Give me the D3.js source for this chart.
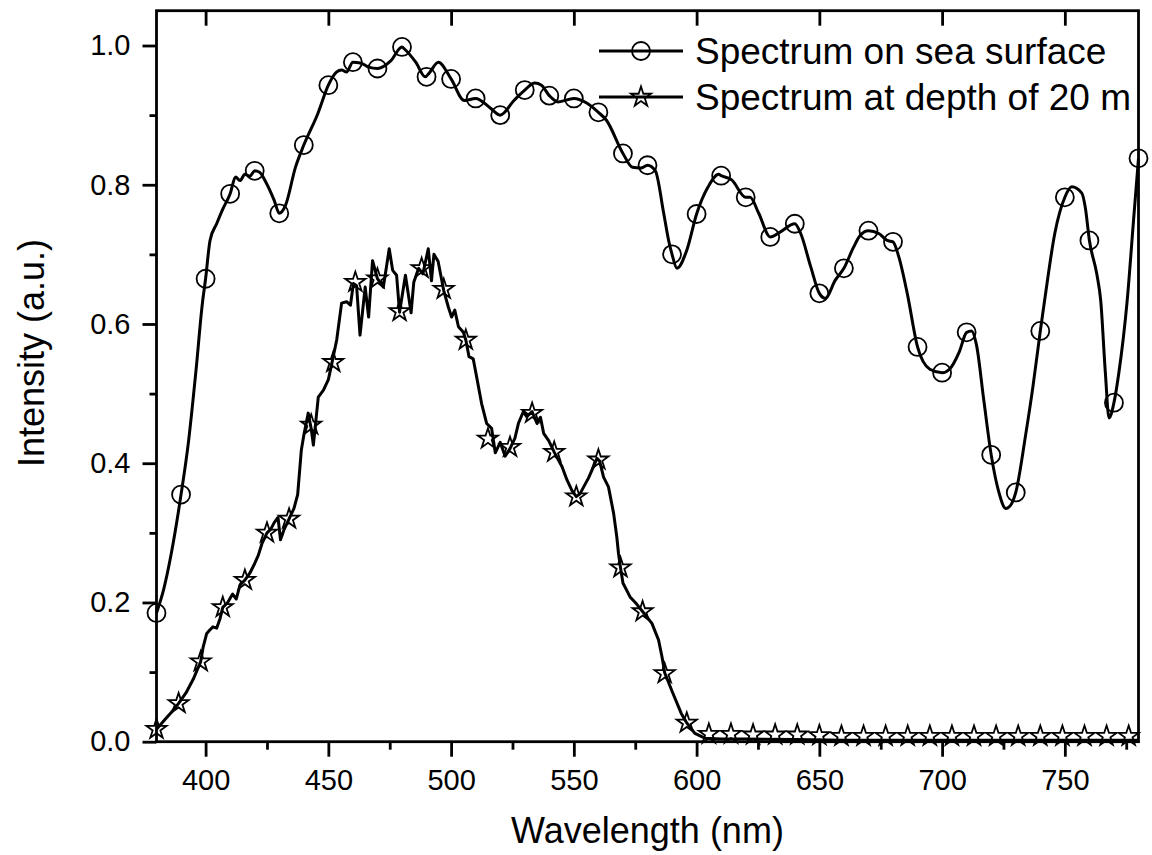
<!DOCTYPE html>
<html>
<head>
<meta charset="utf-8">
<script src="https://cdn.jsdelivr.net/npm/d3@7"></script>
<style>
  html, body { margin: 0; padding: 0; background: #fff; }
  svg { display: block; font-family: "Liberation Sans", Arial, sans-serif; }
  .tick text { fill: #000; }
</style>
</head>
<body>
<div id="chart"></div>
<script>
'use strict';

// sea surface spectrum: line samples (nm, intensity)
var seaNm = [380, 383, 386, 390, 393, 396, 398.7, 400, 401.8, 404.5, 407, 410, 412.2, 414, 416, 418, 420, 422,
    424.5, 427.9, 430, 432.5, 436.6, 440, 445.7, 450, 453.4, 455.4, 457.4, 460, 463, 466.4, 470, 475.4, 480, 481,
    485.6, 489.5, 491, 494.8, 500, 505.4, 510, 515.7, 520, 525.6, 530, 534.1, 536.8, 540, 543.6, 550, 555.4, 560,
    563.2, 570, 573.9, 577.3, 580, 583.2, 586.6, 588.6, 590, 592, 596, 600, 604.7, 609, 610, 614.3, 620, 621.8,
    625.3, 630, 634, 640, 642.4, 646.5, 650, 652.4, 656.5, 660, 663.9, 666.6, 670, 674.2, 677.6, 680, 682.4, 685.8,
    690, 695, 700, 703, 707, 710, 712, 714, 717, 720, 723, 726, 728, 730, 734, 737, 740, 742, 745.9, 750, 752.8,
    756.9, 758.3, 760, 763, 764.6, 766.5, 768, 770, 772, 775.4, 778, 780];
var seaVal = [0.185, 0.22, 0.27, 0.355, 0.43, 0.53, 0.63, 0.665, 0.72, 0.744, 0.765, 0.787, 0.811, 0.806, 0.815, 0.812, 0.82, 0.818,
    0.804, 0.778, 0.759, 0.77, 0.825, 0.857, 0.902, 0.943, 0.962, 0.965, 0.962, 0.976, 0.975, 0.969, 0.967, 0.978, 0.998, 0.995,
    0.976, 0.955, 0.96, 0.976, 0.952, 0.921, 0.924, 0.911, 0.9, 0.921, 0.936, 0.946, 0.943, 0.928, 0.919, 0.924, 0.917, 0.904,
    0.893, 0.845, 0.825, 0.824, 0.828, 0.82, 0.759, 0.72, 0.70, 0.68, 0.706, 0.758, 0.797, 0.815, 0.813, 0.807, 0.782, 0.782,
    0.759, 0.725, 0.732, 0.744, 0.73, 0.682, 0.644, 0.637, 0.663, 0.68, 0.71, 0.727, 0.734, 0.73, 0.72, 0.718, 0.696, 0.644,
    0.567, 0.535, 0.53, 0.535, 0.56, 0.588, 0.59, 0.57, 0.49, 0.412, 0.36, 0.335, 0.34, 0.358, 0.44, 0.51, 0.59, 0.64, 0.73, 0.782, 0.797,
    0.788, 0.768, 0.72, 0.672, 0.634, 0.53, 0.465, 0.487, 0.53, 0.634, 0.75, 0.838];

// sea surface spectrum: circle markers every 10 nm
var seaMarkNm = [380, 390, 400, 410, 420, 430, 440, 450, 460, 470, 480, 490, 500, 510, 520, 530, 540, 550, 560, 570, 580,
    590, 600, 610, 620, 630, 640, 650, 660, 670, 680, 690, 700, 710, 720, 730, 740, 750, 760, 770, 780];
var seaMarkVal = [0.185, 0.355, 0.665, 0.787, 0.82, 0.759, 0.857, 0.943, 0.976, 0.967, 0.998, 0.955, 0.952, 0.924, 0.9, 0.936,
    0.928, 0.924, 0.904, 0.845, 0.828, 0.70, 0.758, 0.813, 0.782, 0.725, 0.744, 0.644, 0.68, 0.734, 0.718, 0.567, 0.53, 0.588,
    0.412, 0.358, 0.59, 0.782, 0.72, 0.487, 0.838];

// spectrum at 20 m depth: line samples
var depthNm = [380, 383, 386, 389, 392, 395, 398, 399, 400.4, 401.6, 403, 404.5, 405.9, 407, 409, 411, 412.5, 414, 416, 418,
    420, 421.5, 423, 425, 426.5, 428, 429.5, 430.5, 432, 434, 436, 437.5, 439, 440, 441.8, 443, 443.9, 445.9, 448, 450, 451.4,
    453.4, 455.4, 457.4, 459, 460.2, 461.5, 462.9, 465, 466.4, 468, 470, 472.4, 474.8, 476.2, 477.8, 479, 481.4, 483.7, 484.8,
    486.8, 488.5, 490.7, 492, 493, 494.7, 497, 498.9, 500.2, 501.5, 503, 505, 506, 507.3, 509, 510.4, 512.4, 514.5, 516.5, 518,
    520, 522, 524, 526, 527.4, 529.4, 530.8, 533, 535, 536.4, 537.7, 539.8, 542, 545.2, 547.2, 549.2, 551, 552.5, 554, 556, 558,
    559.4, 560.5, 562.1, 564.1, 566.2, 567.5, 568.2, 569, 570, 572.9, 575.5, 578, 581.8, 584.5, 585.9, 587, 590.3, 593.7, 596,
    599.3, 603.4, 610, 620, 640, 660, 700, 740, 780];
var depthVal = [0.018, 0.03, 0.042, 0.055, 0.07, 0.09, 0.115, 0.136, 0.155, 0.16, 0.165, 0.163, 0.177, 0.193, 0.2, 0.212, 0.205, 0.225, 0.232, 0.242,
    0.256, 0.268, 0.285, 0.30, 0.305, 0.315, 0.322, 0.29, 0.305, 0.32, 0.335, 0.355, 0.419, 0.44, 0.472, 0.45, 0.426, 0.495, 0.505, 0.52, 0.543,
    0.577, 0.63, 0.632, 0.627, 0.658, 0.655, 0.584, 0.653, 0.61, 0.691, 0.665, 0.653, 0.708, 0.677, 0.67, 0.617, 0.67, 0.616, 0.66,
    0.68, 0.672, 0.708, 0.662, 0.70, 0.69, 0.648, 0.624, 0.61, 0.62, 0.596, 0.588, 0.577, 0.553, 0.55, 0.524, 0.486, 0.457, 0.45, 0.415,
    0.43, 0.41, 0.421, 0.436, 0.457, 0.474, 0.467, 0.474, 0.457, 0.466, 0.443, 0.432, 0.416, 0.395, 0.376, 0.361, 0.352, 0.356, 0.366, 0.379, 0.395,
    0.407, 0.403, 0.38, 0.366, 0.328, 0.294, 0.27, 0.25, 0.228, 0.208, 0.198, 0.187, 0.17, 0.146, 0.122, 0.099, 0.07, 0.041, 0.027,
    0.012, 0.005, 0.004, 0.004, 0.003, 0.002, 0.002, 0.002, 0.002];

// spectrum at 20 m depth: star markers every 9 nm
var depthMarkNm = [380, 389, 398, 407, 416, 425, 434, 443, 452, 461, 470, 479, 488, 497, 506, 515, 524, 533, 542, 551, 560,
    569, 578, 587, 596, 605, 614, 623, 632, 641, 650, 659, 668, 677, 686, 695, 704, 713, 722, 731, 740, 749, 758, 767, 776];
var depthMarkVal = [0.018, 0.055, 0.115, 0.193, 0.232, 0.30, 0.32, 0.455, 0.545, 0.66, 0.665, 0.618, 0.68, 0.65, 0.577, 0.435,
    0.423, 0.472, 0.416, 0.352, 0.405, 0.25, 0.187, 0.098, 0.027, 0.011, 0.011, 0.01, 0.01, 0.01, 0.009, 0.008, 0.008, 0.008,
    0.008, 0.008, 0.008, 0.008, 0.008, 0.008, 0.008, 0.008, 0.008, 0.008, 0.008];

// axis ticks
var xMajor = [400, 450, 500, 550, 600, 650, 700, 750];
var xMinor = [425, 475, 525, 575, 625, 675, 725, 775];
var yMajor = [0, 0.2, 0.4, 0.6, 0.8, 1.0];
var yMinor = [0.1, 0.3, 0.5, 0.7, 0.9];

var seriesNames = ['Spectrum on sea surface', 'Spectrum at depth of 20 m'];

var width = 1152,
    height = 855,
    margin = {top: 10.7, right: 13.5, bottom: 113.3, left: 156.5};

var svg = d3.select('#chart').append('svg')
    .attr('width', width)
    .attr('height', height);

var x = d3.scaleLinear().domain([380, 780]).range([margin.left, width - margin.right]);
var y = d3.scaleLinear().domain([0, 1.05]).range([height - margin.bottom, margin.top]);

var ink = '#000',
    lineW = 3,
    markW = 1.8;

// axes
function styleAxis(g) {
    g.select('.domain').remove();
    g.selectAll('line').attr('stroke', ink).attr('stroke-width', 2.8);
    g.selectAll('text').attr('font-size', '29px');
}

svg.append('g')
    .attr('transform', 'translate(0,' + y(0) + ')')
    .call(d3.axisBottom(x).tickValues(xMajor).tickSize(15).tickPadding(13).tickFormat(d3.format('d')))
    .call(styleAxis);

svg.append('g')
    .attr('transform', 'translate(0,' + y(0) + ')')
    .call(d3.axisBottom(x).tickValues(xMinor).tickSize(8).tickFormat(''))
    .call(styleAxis);

svg.append('g')
    .attr('transform', 'translate(0,' + y(1.05) + ')')
    .call(d3.axisTop(x).tickValues(xMajor).tickSize(-15).tickFormat(''))
    .call(styleAxis);

svg.append('g')
    .attr('transform', 'translate(' + x(380) + ',0)')
    .call(d3.axisLeft(y).tickValues(yMajor).tickSize(14).tickPadding(12).tickFormat(d3.format('.1f')))
    .call(styleAxis);

svg.append('g')
    .attr('transform', 'translate(' + x(380) + ',0)')
    .call(d3.axisLeft(y).tickValues(yMinor).tickSize(7).tickFormat(''))
    .call(styleAxis);

// frame
svg.append('rect')
    .attr('x', x(380))
    .attr('y', y(1.05))
    .attr('width', x(780) - x(380))
    .attr('height', y(0) - y(1.05))
    .attr('fill', 'none')
    .attr('stroke', ink)
    .attr('stroke-width', 2.8);

// lines
var seaLine = d3.line()
    .x(function(d) { return x(d[0]); })
    .y(function(d) { return y(d[1]); })
    .curve(d3.curveMonotoneX);

var depthLine = d3.line()
    .x(function(d) { return x(d[0]); })
    .y(function(d) { return y(d[1]); });

svg.append('path')
    .datum(d3.zip(seaNm, seaVal))
    .attr('d', seaLine)
    .attr('fill', 'none')
    .attr('stroke', ink)
    .attr('stroke-width', lineW)
    .attr('stroke-linejoin', 'round');

svg.append('path')
    .datum(d3.zip(depthNm, depthVal))
    .attr('d', depthLine)
    .attr('fill', 'none')
    .attr('stroke', ink)
    .attr('stroke-width', lineW)
    .attr('stroke-linejoin', 'round');

// markers
var star = d3.symbol().type(d3.symbolStar).size(125);

svg.append('g').selectAll('circle')
    .data(d3.zip(seaMarkNm, seaMarkVal))
    .enter().append('circle')
    .attr('cx', function(d) { return x(d[0]); })
    .attr('cy', function(d) { return y(d[1]); })
    .attr('r', 9)
    .attr('fill', 'none')
    .attr('stroke', ink)
    .attr('stroke-width', markW);

svg.append('g').selectAll('path')
    .data(d3.zip(depthMarkNm, depthMarkVal))
    .enter().append('path')
    .attr('d', star)
    .attr('transform', function(d) { return 'translate(' + x(d[0]) + ',' + y(d[1]) + ')'; })
    .attr('fill', 'none')
    .attr('stroke', ink)
    .attr('stroke-width', markW);

// legend
var legend = svg.append('g').attr('transform', 'translate(599,51)');

seriesNames.forEach(function(name, i) {
    var row = legend.append('g').attr('transform', 'translate(0,' + (i * 46) + ')');
    row.append('line')
        .attr('x1', 0).attr('x2', 84)
        .attr('stroke', ink)
        .attr('stroke-width', lineW);
    if (i === 0) {
        row.append('circle')
            .attr('cx', 42).attr('r', 9)
            .attr('fill', 'none').attr('stroke', ink).attr('stroke-width', markW);
    } else {
        row.append('path')
            .attr('d', star)
            .attr('transform', 'translate(42,0)')
            .attr('fill', 'none').attr('stroke', ink).attr('stroke-width', markW);
    }
    row.append('text')
        .attr('x', 96)
        .attr('dy', '0.35em')
        .attr('font-size', '37px')
        .attr('fill', ink)
        .text(name);
});

// axis titles
svg.append('text')
    .attr('x', (x(380) + x(780)) / 2)
    .attr('y', 843)
    .attr('text-anchor', 'middle')
    .attr('font-size', '36px')
    .attr('fill', ink)
    .text('Wavelength (nm)');

svg.append('text')
    .attr('transform', 'translate(44,353) rotate(-90)')
    .attr('text-anchor', 'middle')
    .attr('font-size', '36px')
    .attr('fill', ink)
    .text('Intensity (a.u.)');
</script>
</body>
</html>
